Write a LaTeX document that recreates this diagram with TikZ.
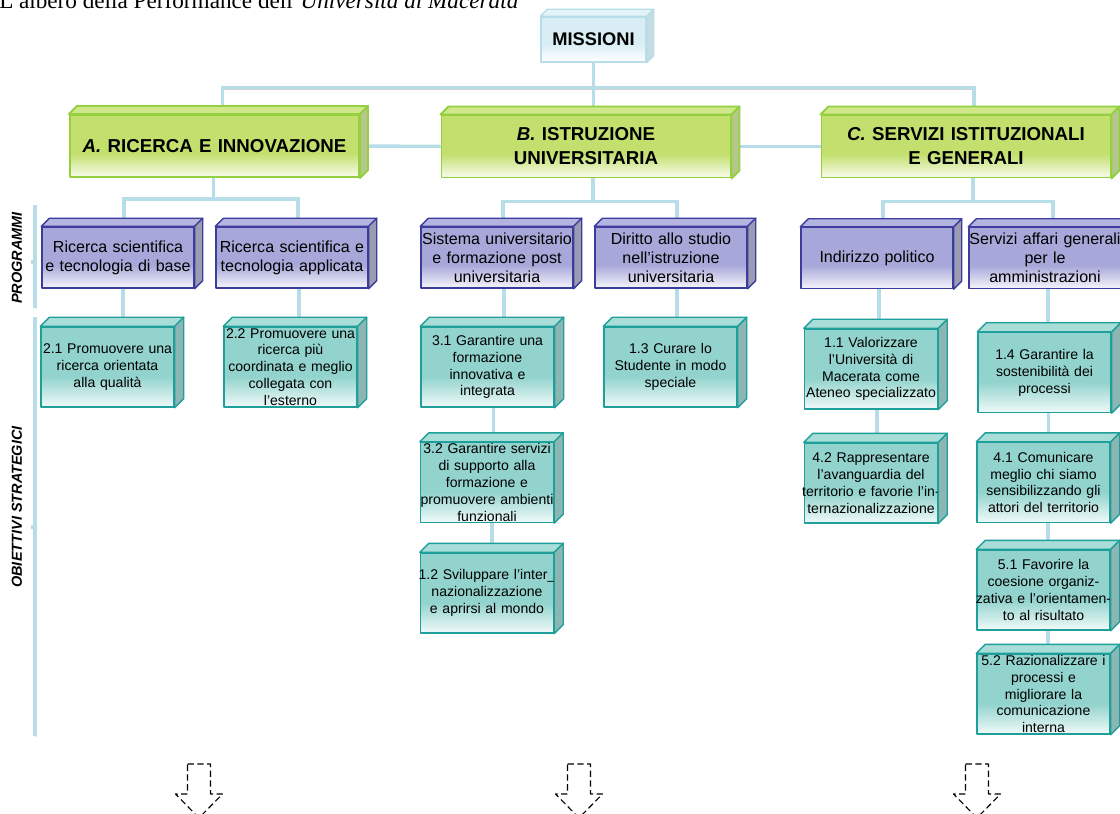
\documentclass[tikz,border=0pt]{standalone}
\usepackage{fontspec}
\setmainfont{Liberation Serif}
\newfontfamily\arial{Liberation Sans}
\usetikzlibrary{backgrounds}
\newlength\pxu
\setlength\pxu{0.025cm}
% colours: fill (F), fade (W), top face (T), side face (S), line (L)
\definecolor{missF}{HTML}{D9EEF4}\definecolor{missW}{HTML}{FFFFFF}
\definecolor{missT}{HTML}{E4F3F7}\definecolor{missS}{HTML}{C4DCE2}\definecolor{missL}{HTML}{B7DDE8}
\definecolor{areaF}{HTML}{C3DF6E}\definecolor{areaW}{HTML}{F8FCEC}
\definecolor{areaT}{HTML}{D0E78C}\definecolor{areaS}{HTML}{B6C68C}\definecolor{areaL}{HTML}{94D040}
\definecolor{progF}{HTML}{A7A7D9}\definecolor{progW}{HTML}{F5F5FC}
\definecolor{progT}{HTML}{B4B4E1}\definecolor{progS}{HTML}{9B9BB2}\definecolor{progL}{HTML}{3C3C9C}
\definecolor{goalF}{HTML}{93D3CD}\definecolor{goalW}{HTML}{F0FAF9}
\definecolor{goalT}{HTML}{A8DDD8}\definecolor{goalS}{HTML}{8BB6B3}\definecolor{goalL}{HTML}{1F9F99}
\definecolor{connblue}{HTML}{B7DDE8}
\pgfdeclareverticalshading{missshade}{100bp}{color(0bp)=(missW); color(25bp)=(missW); color(45bp)=(missF); color(100bp)=(missF)}
\pgfdeclareverticalshading{areashade}{100bp}{color(0bp)=(areaW); color(25bp)=(areaW); color(44bp)=(areaF); color(100bp)=(areaF)}
\pgfdeclareverticalshading{progshade}{100bp}{color(0bp)=(progW); color(25bp)=(progW); color(44bp)=(progF); color(100bp)=(progF)}
\pgfdeclareverticalshading{goalshade}{100bp}{color(0bp)=(goalW); color(25bp)=(goalW); color(44bp)=(goalF); color(100bp)=(goalF)}
\tikzset{
  cube/.style={inner ysep=0pt, inner xsep=-8\pxu, align=center, text=black},
  mission/.style={cube, draw=missL, line width=1pt, shading=missshade, text width=121\pxu, minimum height=45\pxu,
    font=\arial\bfseries\fontsize{13}{16}\selectfont},
  area/.style={cube, draw=areaL, line width=1.4pt, shading=areashade, text width=305\pxu, minimum height=62\pxu,
    font=\arial\bfseries\fontsize{13.3}{17}\selectfont},
  prog/.style={cube, draw=progL, line width=1pt, shading=progshade, text width=168\pxu, minimum height=61\pxu,
    font=\arial\fontsize{11.4}{13.6}\selectfont},
  goal/.style={cube, draw=goalL, line width=1pt, shading=goalshade, text width=149\pxu, minimum height=80\pxu,
    font=\arial\fontsize{10}{12}\selectfont},
  missface/.style={draw=missL, line width=1pt},
  areaface/.style={draw=areaL, line width=1.4pt},
  progface/.style={draw=progL, line width=1pt},
  goalface/.style={draw=goalL, line width=1pt},
  conn/.style={draw=connblue, line width=3.5\pxu,
    preaction={draw=black!18, transform canvas={shift={(0.6pt,-0.8pt)}}}},
  sidelabel/.style={rotate=90, font=\arial\bfseries\itshape\fontsize{10.3}{12}\selectfont},
  downarrow/.style={dash pattern=on 4.5pt off 2.5pt, line width=0.8pt},
}
\begin{document}
\begin{tikzpicture}[x=0.025cm,y=-0.025cm,line join=round]
\useasboundingbox (0,0) rectangle (1120,814);
\node[anchor=base west, inner sep=0pt, font=\fontsize{16.5}{20}\selectfont] (title) at (-1,9)
  {L’albero della Performance dell’\textit{Università di Macerata}};
% missioni and areas
\node[mission] (miss) at (593.5,39.5) {MISSIONI};
\node[area] (A) at (214.5,146) {\textit{A.} RICERCA E INNOVAZIONE};
\node[area] (B) at (586,146.5) {\textit{B.} ISTRUZIONE\\UNIVERSITARIA};
\node[area] (C) at (966,146.5) {\textit{C.} SERVIZI ISTITUZIONALI\\E GENERALI};
% programmi
\node[prog] (p1) at (118,257.5) {Ricerca scientifica\\e tecnologia di base};
\node[prog] (p2) at (292,257.5) {Ricerca scientifica e\\tecnologia applicata};
\node[prog] (p3) at (497,257.5) {Sistema universitario\\e formazione post\\universitaria};
\node[prog] (p4) at (671,257.5) {Diritto allo studio\\nell’istruzione\\universitaria};
\node[prog] (p5) at (877,258) {Indirizzo politico};
\node[prog] (p6) at (1045,258) {Servizi affari generali\\per le\\amministrazioni};
% obiettivi strategici
\node[goal] (o21) at (107.5,367) {2.1 Promuovere una\\ricerca orientata\\alla qualità};
\node[goal] (o22) at (290.5,367) {2.2 Promuovere una\\ricerca più\\coordinata e meglio\\collegata con\\l’esterno};
\node[goal] (o31) at (487.5,367) {3.1 Garantire una\\formazione\\innovativa e\\integrata};
\node[goal] (o13) at (670.5,367) {1.3 Curare lo\\Studente in modo\\speciale};
\node[goal] (o32) at (487,482.5) {3.2 Garantire servizi\\di supporto alla\\formazione e\\promuovere ambienti\\funzionali};
\node[goal] (o12) at (487,593) {1.2 Sviluppare l’inter\_\\nazionalizzazione\\e aprirsi al mondo};
\node[goal] (o11) at (871,369) {1.1 Valorizzare\\l’Università di\\Macerata come\\Ateneo specializzato};
\node[goal] (o42) at (871,483) {4.2 Rappresentare\\l’avanguardia del\\territorio e favorie l’in-\\ternazionalizzazione};
\node[goal] (o14) at (1044.5,372.5) {1.4 Garantire la\\sostenibilità dei\\processi};
\node[goal] (o41) at (1043.5,482.5) {4.1 Comunicare\\meglio chi siamo\\sensibilizzando gli\\attori del territorio};
\node[goal] (o51) at (1043.5,590) {5.1 Favorire la\\coesione organiz-\\zativa e l’orientamen-\\to al risultato};
\node[goal] (o52) at (1043.5,694) {5.2 Razionalizzare i\\processi e\\migliorare la\\comunicazione\\interna};
% top and side faces of the boxes
\foreach \nm/\dp/\kd in {miss/7/miss,A/8/area,B/8/area,C/8/area,
    p1/8/prog,p2/8/prog,p3/8/prog,p4/8/prog,p5/8/prog,p6/8/prog,
    o21/9/goal,o22/9/goal,o31/9/goal,o13/9/goal,o32/9/goal,o12/9/goal,
    o11/9/goal,o42/9/goal,o14/9/goal,o41/9/goal,o51/9/goal,o52/9/goal}{
  \filldraw[\kd face, fill=\kd T] (\nm.north west) -- ++(\dp,-\dp) -- ([shift={(\dp,-\dp)}]\nm.north east) -- (\nm.north east) -- cycle;
  \filldraw[\kd face, fill=\kd S] (\nm.north east) -- ++(\dp,-\dp) -- ([shift={(\dp,-\dp)}]\nm.south east) -- (\nm.south east) -- cycle;
}
% connectors
\begin{scope}[on background layer]
\draw[conn] (miss.south) -- ++(0,25) -| ([xshift=8\pxu]A.north);
\draw[conn] (miss.south) -- ++(0,25) -| ([xshift=8\pxu]C.north);
\draw[conn] (miss.south) -- (miss.south |- B.north);
\draw[conn] (A.east) -- (B.west);
\draw[conn] (B.east) -- (C.west);
\draw[conn] ([xshift=-1\pxu]A.south) -- ++(0,21) -| ([xshift=6\pxu]p1.north);
\draw[conn] ([xshift=-1\pxu]A.south) -- ++(0,21) -| ([xshift=6\pxu]p2.north);
\draw[conn] ([xshift=7\pxu]B.south) -- ++(0,23) -| ([xshift=6\pxu]p3.north);
\draw[conn] ([xshift=7\pxu]B.south) -- ++(0,23) -| ([xshift=6\pxu]p4.north);
\draw[conn] ([xshift=7\pxu]C.south) -- ++(0,23) -| ([xshift=6\pxu]p5.north);
\draw[conn] ([xshift=7\pxu]C.south) -- ++(0,23) -| ([xshift=8\pxu]p6.north);
\draw[conn] ([xshift=5\pxu]p1.south) |- (o21.north);
\draw[conn] ([xshift=7\pxu]p2.south) |- (o22.north);
\draw[conn] ([xshift=7\pxu]p3.south) |- (o31.north);
\draw[conn] ([xshift=6\pxu]p4.south) |- (o13.north);
\draw[conn] ([xshift=2\pxu]p5.south) |- (o11.north);
\draw[conn] ([xshift=3\pxu]p6.south) |- (o14.north);
\draw[conn] ([xshift=6\pxu]o31.south) |- (o32.north);
\draw[conn] ([xshift=5\pxu]o32.south) |- (o12.north);
\draw[conn] ([xshift=6\pxu]o11.south) |- (o42.north);
\draw[conn] ([xshift=4\pxu]o14.south) |- (o41.north);
\draw[conn] ([xshift=4.5\pxu]o41.south) |- (o51.north);
\draw[conn] ([xshift=4.5\pxu]o51.south) |- (o52.north);
% brackets on the left
\draw[conn] (35,205) -- (35,308) (35,262) -- (31,262);
\draw[conn] (35,317) -- (35,736) (35,527) -- (31,527);
\end{scope}
\node[sidelabel] (lprog) at (17,258) {PROGRAMMI};
\node[sidelabel] (lobj) at (17,507) {OBIETTIVI STRATEGICI};
% dashed arrows at the bottom
\foreach \x in {199,579,977}
  \draw[downarrow] (\x-11.5,764) -- (\x+11.5,764) -- (\x+11.5,794) -- (\x+23.5,794) -- (\x,818)
    -- (\x-23.5,794) -- (\x-11.5,794) -- cycle;
\end{tikzpicture}
\end{document}
